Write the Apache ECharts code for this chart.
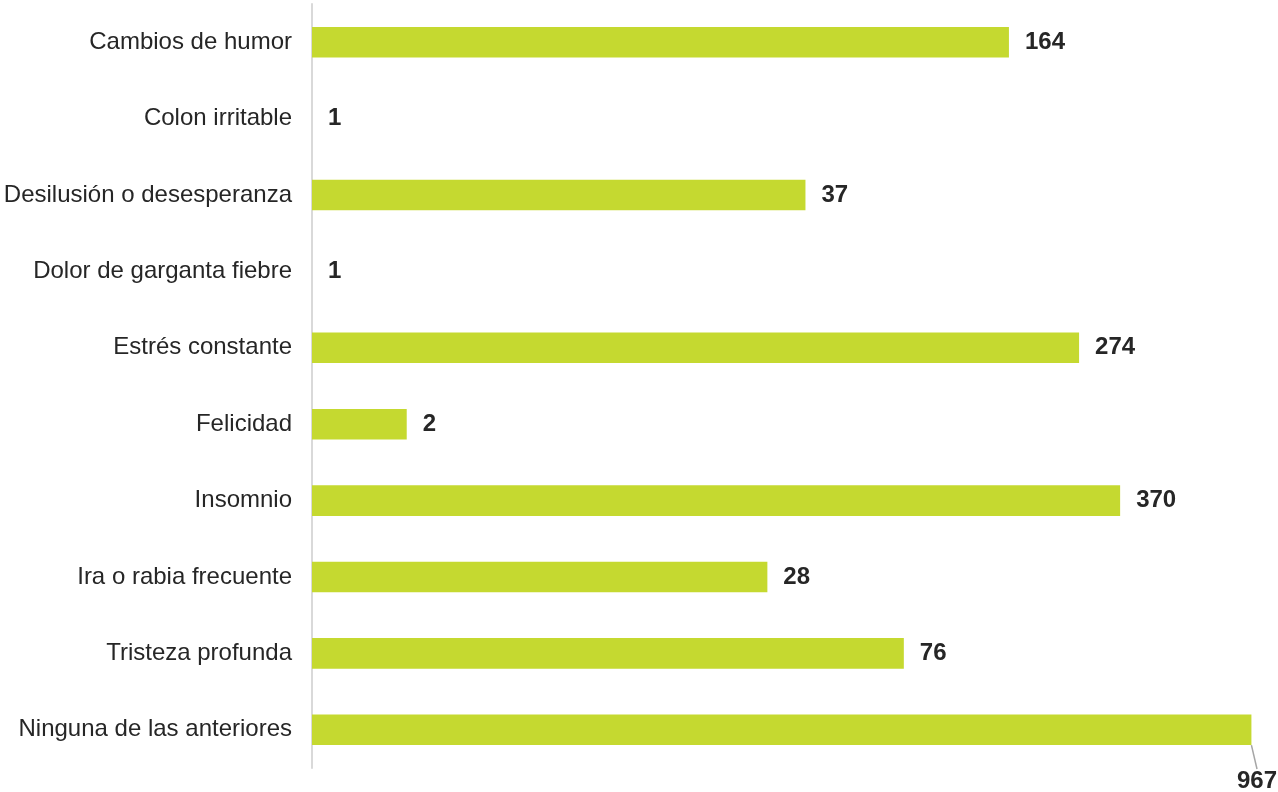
<!DOCTYPE html>
<html>
<head>
<meta charset="utf-8">
<script src="https://cdn.jsdelivr.net/npm/echarts@6/dist/echarts.min.js"></script>
<style>html,body{margin:0;padding:0;background:#fff}#c{width:1278px;height:792px}</style>
</head>
<body>
<div id="c"></div>
<script>
const categories = ["Cambios de humor","Colon irritable","Desilusión o desesperanza","Dolor de garganta fiebre","Estrés constante","Felicidad","Insomnio","Ira o rabia frecuente","Tristeza profunda","Ninguna de las anteriores"];
const values = [164, 1, 37, 1, 274, 2, 370, 28, 76, 967];

const FONT = "'Liberation Sans', Arial, sans-serif";
const seriesData = values.map(function (v, i) {
  if (i === values.length - 1) {
    return {value: v, labelLine: {show: true, lineStyle: {color: '#a6a6a6', width: 1.5}}};
  }
  return {value: v};
});

const chart = echarts.init(document.getElementById('c'));
chart.setOption({
  animation: false,
  grid: {left: 312, right: 22, top: 4, bottom: 24, containLabel: false},
  xAxis: {
    type: 'log', logBase: 10, min: 1, max: 1000,
    show: false
  },
  yAxis: {
    type: 'category', data: categories, inverse: true,
    axisLine: {show: true, lineStyle: {color: '#d9d9d9', width: 2}},
    axisTick: {show: false},
    axisLabel: {fontFamily: FONT, fontSize: 24, color: '#262626', margin: 20}
  },
  series: [{
    type: 'bar',
    data: seriesData,
    barWidth: '40%',
    itemStyle: {color: '#c5d930'},
    label: {
      show: true, position: 'right', distance: 16,
      fontFamily: FONT, fontSize: 24, fontWeight: 'bold', color: '#262626'
    },
    labelLine: {show: false},
    labelLayout: function (p) {
      if (p.dataIndex === values.length - 1) {
        return {x: 1257, y: 781, align: 'center', verticalAlign: 'middle'};
      }
      return {};
    }
  }]
});
</script>
</body>
</html>
